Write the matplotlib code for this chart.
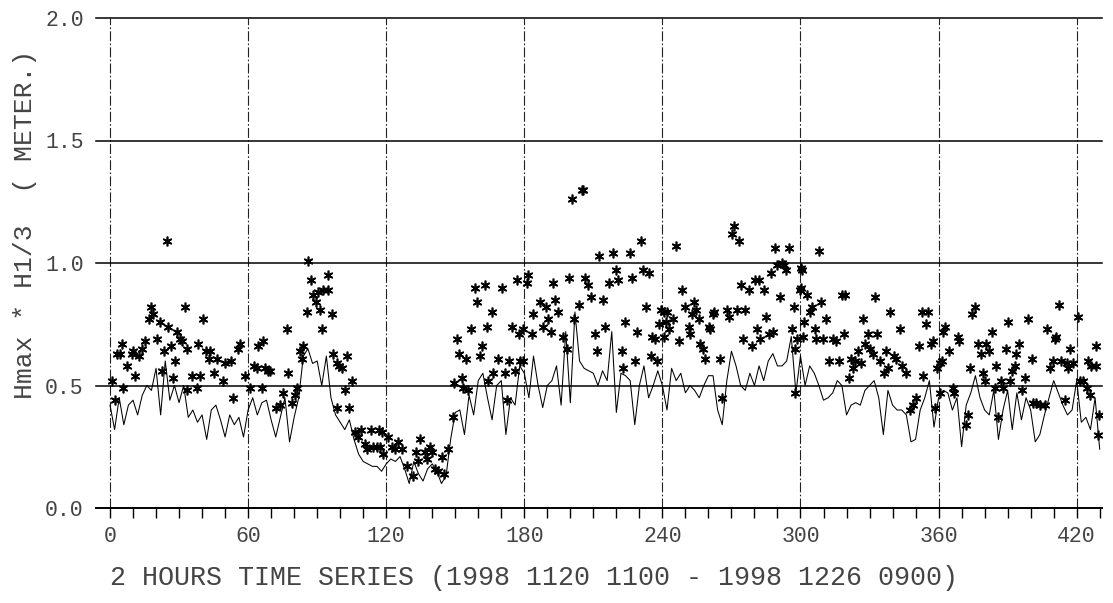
import matplotlib
matplotlib.use("Agg")
import matplotlib.pyplot as plt
import numpy as np

# ---------------- data ----------------
# H1/3 significant wave height, sampled every 2 time steps (2-hour series)
step = 2
h13 = [
    0.42, 0.32, 0.45, 0.34, 0.42, 0.44, 0.38, 0.46, 0.50, 0.48,  # 0-18
    0.57, 0.38, 0.60, 0.44, 0.50, 0.43, 0.50, 0.37, 0.40, 0.35,  # 20-38
    0.38, 0.28, 0.40, 0.42, 0.36, 0.29, 0.38, 0.34, 0.37, 0.29,  # 40-58
    0.40, 0.45, 0.38, 0.43, 0.44, 0.36, 0.29, 0.37, 0.45, 0.27,  # 60-78
    0.37, 0.45, 0.62, 0.65, 0.59, 0.60, 0.50, 0.62, 0.45, 0.38,  # 80-98
    0.35, 0.32, 0.36, 0.28, 0.22, 0.19, 0.18, 0.17, 0.17, 0.15,  # 100-118
    0.18, 0.20, 0.19, 0.21, 0.16, 0.10, 0.19, 0.14, 0.11, 0.16,  # 120-138
    0.18, 0.15, 0.10, 0.13, 0.28, 0.39, 0.40, 0.30, 0.46, 0.38,  # 140-158
    0.52, 0.55, 0.45, 0.36, 0.50, 0.52, 0.30, 0.45, 0.42, 0.58,  # 160-178
    0.55, 0.45, 0.62, 0.50, 0.41, 0.50, 0.52, 0.58, 0.42, 0.72,  # 180-198
    0.43, 0.80, 0.60, 0.57, 0.56, 0.55, 0.50, 0.56, 0.52, 0.72,  # 200-218
    0.39, 0.55, 0.54, 0.52, 0.34, 0.50, 0.58, 0.45, 0.50, 0.56,  # 220-238
    0.50, 0.40, 0.57, 0.52, 0.55, 0.47, 0.50, 0.48, 0.45, 0.50,  # 240-258
    0.54, 0.54, 0.40, 0.34, 0.52, 0.64, 0.58, 0.50, 0.48, 0.55,  # 260-278
    0.50, 0.58, 0.52, 0.60, 0.63, 0.58, 0.58, 0.60, 0.70, 0.47,  # 280-298
    0.62, 0.50, 0.58, 0.55, 0.50, 0.44, 0.45, 0.47, 0.52, 0.50,  # 300-318
    0.38, 0.42, 0.43, 0.42, 0.48, 0.50, 0.52, 0.45, 0.30, 0.48,  # 320-338
    0.42, 0.40, 0.40, 0.38, 0.27, 0.28, 0.40, 0.45, 0.52, 0.33,  # 340-358
    0.45, 0.48, 0.47, 0.40, 0.45, 0.25, 0.42, 0.47, 0.54, 0.45,  # 360-378
    0.40, 0.38, 0.48, 0.28, 0.40, 0.48, 0.32, 0.47, 0.36, 0.45,  # 380-398
    0.40, 0.27, 0.30, 0.38, 0.45, 0.52, 0.47, 0.42, 0.38, 0.40,  # 400-418
    0.52, 0.35, 0.37, 0.32, 0.45, 0.24,                          # 420-430
]
time_h13 = np.arange(len(h13)) * step

# Hmax observations: (time step, Hmax in metres)
hmax_obs = [
    (0.7, 0.52), (2.2, 0.44), (2.9, 0.63), (4.3, 0.63), (5.1, 0.67), (5.8, 0.49),
    (7.2, 0.58), (9.4, 0.63), (10.1, 0.64), (10.9, 0.54), (12.7, 0.62), (13.8, 0.65),
    (15.2, 0.68), (17.1, 0.77), (17.7, 0.82), (18.8, 0.79), (20.6, 0.69), (21.7, 0.76),
    (22.4, 0.56), (23.5, 0.64), (24.6, 1.09), (25.3, 0.74), (26.4, 0.66), (27.2, 0.53),
    (28.2, 0.60), (29.2, 0.72), (30.4, 0.69), (31.1, 0.68), (32.6, 0.82), (33.3, 0.65),
    (33.6, 0.48), (35.5, 0.54), (37.6, 0.49), (38.1, 0.67), (39.1, 0.54), (40.3, 0.77),
    (41.7, 0.64), (43.1, 0.61), (43.4, 0.64), (45.2, 0.55), (46.6, 0.61), (48.9, 0.52),
    (49.9, 0.59), (52.4, 0.60), (53.6, 0.45), (55.7, 0.65), (56.5, 0.67), (58.7, 0.54),
    (60.8, 0.49), (62.6, 0.58), (63.7, 0.57), (64.5, 0.66), (65.9, 0.49), (66.3, 0.68),
    (67.4, 0.57), (68.8, 0.56), (69.5, 0.56), (72.1, 0.41), (73.9, 0.42), (75.3, 0.47),
    (76.8, 0.73), (77.5, 0.55), (78.9, 0.43), (80.4, 0.46), (81.4, 0.49), (82.6, 0.64),
    (83.3, 0.61), (84.0, 0.66), (85.5, 0.80), (86.2, 1.01), (87.3, 0.93), (88.4, 0.87),
    (89.5, 0.84), (90.5, 0.88), (91.3, 0.81), (92.0, 0.73), (92.7, 0.89), (94.6, 0.95),
    (94.9, 0.89), (96.3, 0.79), (97.0, 0.63), (98.5, 0.59), (98.5, 0.41), (99.6, 0.58),
    (100.7, 0.57), (102.1, 0.48), (103.1, 0.62), (104.0, 0.41), (105.0, 0.52), (106.5, 0.31),
    (107.9, 0.29), (108.9, 0.32), (110.8, 0.26), (111.5, 0.24), (113.3, 0.32), (114.1, 0.25),
    (115.9, 0.25), (117.0, 0.32), (117.3, 0.25),
    (118.0, 0.31), (118.7, 0.22), (120.9, 0.29), (122.4, 0.25), (123.8, 0.24), (125.3, 0.27),
    (126.7, 0.24), (128.9, 0.17), (131.8, 0.13), (132.9, 0.23), (134.0, 0.19), (134.7, 0.28),
    (136.8, 0.23), (137.9, 0.20), (139.0, 0.25), (139.7, 0.23), (141.2, 0.16), (142.6, 0.15),
    (144.1, 0.21), (145.1, 0.14), (147.0, 0.24), (148.9, 0.37), (149.4, 0.51), (150.6, 0.69),
    (151.8, 0.63), (152.8, 0.53), (153.5, 0.49), (154.7, 0.61), (155.7, 0.48), (156.7, 0.73),
    (158.6, 0.90), (159.6, 0.84), (160.7, 0.62), (161.8, 0.66), (162.9, 0.91), (163.6, 0.74),
    (164.4, 0.52), (165.8, 0.80), (166.5, 0.55), (168.7, 0.61), (170.2, 0.90), (171.6, 0.55),
    (172.3, 0.44), (173.5, 0.60), (174.8, 0.74), (176.0, 0.56), (176.7, 0.93), (177.8, 0.71),
    (178.1, 0.60), (179.3, 0.73),
    (179.5, 0.60), (181.0, 0.92), (181.7, 0.95), (183.2, 0.71), (183.9, 0.79), (186.8, 0.84),
    (188.2, 0.74), (189.4, 0.82), (190.4, 0.77), (191.4, 0.72), (192.6, 0.92), (193.3, 0.85),
    (194.8, 0.80), (196.6, 0.70), (198.4, 0.65), (199.5, 0.94), (200.8, 1.26), (201.6, 0.77),
    (203.9, 0.83), (204.9, 1.30), (205.6, 1.30), (206.3, 0.94), (207.8, 0.91), (208.8, 0.86),
    (210.7, 0.71), (211.4, 0.64), (212.4, 1.03), (214.3, 0.85), (215.0, 0.74), (216.9, 0.92),
    (218.6, 1.04), (219.8, 0.97), (220.8, 0.93), (222.3, 0.64), (223.0, 0.57), (223.7, 0.76),
    (225.9, 1.04), (226.6, 0.94), (228.1, 0.60), (229.1, 0.72), (230.9, 1.09), (231.7, 0.97),
    (232.8, 0.82), (234.3, 0.96), (234.9, 0.62), (235.7, 0.70), (236.7, 0.69), (237.5, 0.60),
    (238.6, 0.75), (239.6, 0.81),
    (240.5, 0.80), (240.5, 0.70), (241.7, 0.76), (242.0, 0.80), (242.7, 0.73), (244.6, 0.77),
    (245.9, 1.07), (247.0, 0.68), (248.5, 0.89), (249.9, 0.82), (251.4, 0.74), (252.1, 0.71),
    (252.9, 0.79), (253.6, 0.84), (254.7, 0.81), (255.7, 0.77), (256.5, 0.67), (257.6, 0.65),
    (258.6, 0.61), (260.1, 0.74), (260.5, 0.73), (262.0, 0.79), (262.6, 0.80), (264.9, 0.61),
    (265.9, 0.45), (268.1, 0.81), (268.8, 0.78), (270.2, 1.12), (271.2, 1.15), (272.4, 0.81),
    (273.4, 1.09), (274.3, 0.91), (275.0, 0.69), (276.0, 0.81), (277.5, 0.89), (278.9, 0.66),
    (280.4, 0.93), (281.1, 0.73), (281.8, 0.93), (282.5, 0.69), (284.0, 0.89), (285.1, 0.78),
    (286.2, 0.71), (287.2, 0.96), (288.1, 0.72), (289.1, 1.06), (289.8, 0.99), (290.9, 0.86),
    (292.0, 1.00), (292.7, 0.99), (293.8, 0.97), (294.8, 1.06), (296.3, 0.73), (297.0, 0.82),
    (297.7, 0.65), (297.7, 0.47), (298.5, 0.69), (299.9, 0.89),
    (300.4, 0.98), (300.4, 0.90), (300.6, 0.97), (301.2, 0.70), (301.4, 0.76), (302.9, 0.87),
    (304.0, 0.80), (305.2, 0.82), (306.2, 0.73), (306.7, 0.69), (308.1, 1.05), (309.1, 0.84),
    (309.8, 0.69), (311.0, 0.77), (312.4, 0.60), (314.2, 0.69), (315.3, 0.68), (316.8, 0.60),
    (318.2, 0.87), (318.8, 0.71), (319.5, 0.87), (321.1, 0.53), (322.1, 0.61), (322.9, 0.57),
    (323.6, 0.60), (325.0, 0.64), (326.2, 0.59), (327.2, 0.77), (327.9, 0.67), (329.4, 0.71),
    (330.1, 0.65), (331.3, 0.63), (332.3, 0.86), (333.3, 0.71), (334.5, 0.60), (336.2, 0.55),
    (337.1, 0.64), (338.1, 0.57), (339.1, 0.80), (340.5, 0.62), (341.7, 0.61), (343.1, 0.73),
    (344.3, 0.58), (345.7, 0.55), (347.5, 0.40), (348.9, 0.42), (350.4, 0.45), (351.5, 0.66),
    (352.6, 0.80), (353.3, 0.54), (354.4, 0.75), (355.5, 0.80), (356.9, 0.67), (357.6, 0.68),
    (358.3, 0.41), (359.1, 0.57),
    (360.5, 0.59), (360.5, 0.47), (361.3, 0.60), (362.0, 0.72), (362.7, 0.74), (364.6, 0.64),
    (366.3, 0.49), (366.6, 0.47), (368.5, 0.70), (368.9, 0.68), (372.1, 0.34), (372.8, 0.38),
    (373.6, 0.57), (374.7, 0.79), (375.7, 0.82), (377.2, 0.67), (378.3, 0.63), (379.4, 0.55),
    (380.1, 0.52), (380.8, 0.67), (382.0, 0.64), (383.0, 0.72), (384.4, 0.49), (384.9, 0.58),
    (385.9, 0.37), (387.0, 0.52), (388.0, 0.49), (389.5, 0.65), (390.2, 0.76), (391.0, 0.52),
    (392.1, 0.56), (393.1, 0.58), (393.8, 0.63), (395.0, 0.67), (396.4, 0.48), (397.5, 0.53),
    (398.9, 0.77), (400.4, 0.61), (401.0, 0.43), (402.5, 0.43), (404.0, 0.42), (406.1, 0.42),
    (406.9, 0.73), (408.3, 0.57), (409.5, 0.60), (410.5, 0.69), (411.2, 0.70), (412.4, 0.83),
    (413.4, 0.60), (414.8, 0.44), (415.6, 0.59), (416.3, 0.57), (417.0, 0.65), (418.2, 0.59),
    (420.6, 0.78), (421.4, 0.52), (422.8, 0.52), (424.3, 0.49), (425.0, 0.60), (425.7, 0.46),
    (426.4, 0.58), (428.3, 0.66), (428.6, 0.58), (429.4, 0.30), (429.8, 0.38),
]
hmax_t = [p[0] for p in hmax_obs]
hmax_v = [p[1] for p in hmax_obs]

x_major = [0, 60, 120, 180, 240, 300, 360, 420]
x_labels = ["0", "60", "120", "180", "240", "300", "360", "420"]
y_ticks = [0.0, 0.5, 1.0, 1.5, 2.0]
y_labels = ["0.0", "0.5", "1.0", "1.5", "2.0"]

x_title = "2 HOURS TIME SERIES (1998 1120 1100 - 1998 1226 0900)"
y_title = "Hmax * H1/3  ( METER.)"

# ---------------- drawing ----------------
plt.rcParams["font.family"] = ["Liberation Mono", "DejaVu Sans Mono"]
txt_color = "#444444"

W, H = 1113, 603
fig = plt.figure(figsize=(W / 100, H / 100), dpi=100)
ax = fig.add_axes([96.2 / W, 95 / H, (1102 - 96.2) / W, 490 / H])
ax.set_xlim(-6, 431)
ax.set_ylim(0, 2.0)

for s in ["top", "right", "left"]:
    ax.spines[s].set_visible(False)
ax.spines["bottom"].set_linewidth(1.4)

for yv in y_ticks[1:]:
    ax.axhline(yv, color="black", lw=1.1, clip_on=False, zorder=2)
for xv in x_major:
    ax.axvline(xv, color="#222222", lw=0.8, ls=(0, (9, 2, 1.5, 2)), zorder=1)

ax.plot(time_h13, h13, color="black", lw=0.75, zorder=3)
ax.plot(hmax_t, hmax_v, ls="none", marker=(6, 2, 0), ms=7, mew=1.2,
        color="black", zorder=4)

ax.set_xticks(x_major)
ax.set_xticklabels(x_labels)
ax.set_xticks(np.arange(0, 431, 10), minor=True)
ax.tick_params(axis="x", which="both", direction="out", length=7, width=1.0,
               pad=6, labelsize=15.5, labelcolor=txt_color)
ax.set_yticks(y_ticks)
ax.set_yticklabels(y_labels)
ax.tick_params(axis="y", length=0, pad=9, labelsize=15.5, labelcolor=txt_color)

fig.text(110 / W, 1 - 578 / H, x_title, ha="left", va="center",
         fontsize=19.2, color=txt_color)
fig.text(25 / W, 1 - 224 / H, y_title, ha="center", va="center",
         rotation=90, fontsize=19, color=txt_color)

fig.savefig("out.png", dpi=100)
